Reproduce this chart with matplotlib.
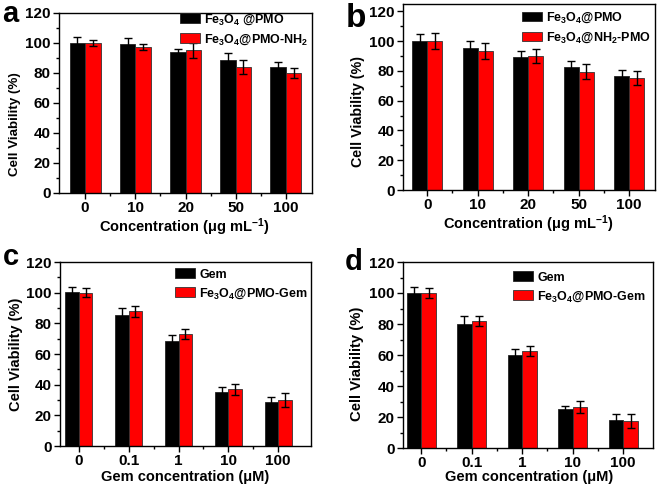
import matplotlib
matplotlib.use('Agg')
import matplotlib.pyplot as plt
import numpy as np
from matplotlib.ticker import MultipleLocator, FixedLocator

plt.rcParams['font.family'] = ['Liberation Sans', 'DejaVu Sans']
plt.rcParams['font.weight'] = 'bold'
plt.rcParams['mathtext.fontset'] = 'custom'
plt.rcParams['mathtext.rm'] = 'Liberation Sans:bold'
plt.rcParams['mathtext.it'] = 'Liberation Sans:bold'
plt.rcParams['mathtext.bf'] = 'Liberation Sans:bold'
plt.rcParams['mathtext.default'] = 'regular'

# ---------------- data ----------------
conc_ab = ['0', '10', '20', '50', '100']
conc_cd = ['0', '0.1', '1', '10', '100']

a_pmo = [99.9, 99.2, 94.3, 88.7, 83.8]
a_pmo_err = [3.8, 4.0, 2.0, 4.3, 3.4]
a_nh2 = [100.0, 97.2, 95.0, 83.8, 79.8]
a_nh2_err = [2.1, 2.0, 4.7, 4.7, 3.3]

b_pmo = [99.8, 95.4, 89.1, 82.4, 76.6]
b_pmo_err = [5.0, 5.0, 4.5, 4.5, 4.2]
b_nh2 = [100.0, 93.6, 90.2, 79.5, 75.4]
b_nh2_err = [5.2, 5.3, 4.7, 5.1, 4.5]

c_gem = [100.3, 85.3, 68.6, 35.2, 28.4]
c_gem_err = [3.4, 5.0, 3.7, 3.0, 3.3]
c_pmo = [100.0, 87.9, 72.9, 36.9, 30.2]
c_pmo_err = [2.9, 3.7, 3.1, 3.7, 4.5]

d_gem = [100.3, 80.3, 60.3, 24.9, 18.2]
d_gem_err = [3.6, 4.7, 3.5, 2.4, 3.7]
d_pmo = [100.0, 81.8, 62.5, 26.6, 17.4]
d_pmo_err = [3.3, 3.2, 3.0, 3.7, 4.5]

lbl_a = ['Fe$_3$O$_4$ @PMO', 'Fe$_3$O$_4$@PMO-NH$_2$']
lbl_b = ['Fe$_3$O$_4$@PMO', 'Fe$_3$O$_4$@NH$_2$-PMO']
lbl_cd = ['Gem', 'Fe$_3$O$_4$@PMO-Gem']
xlab_ab = 'Concentration (μg mL$^{-1}$)'
xlab_cd = 'Gem concentration (μM)'
ylab = 'Cell Viability (%)'

W, H = 661, 494
fig = plt.figure(figsize=(W / 100, H / 100), dpi=100)

RED = '#FF0000'


def panel(rect, xlim, ylim, width, cats, y1, e1, y2, e2, labels, xlab,
          leg_xy, ylab_xy, xlab_xy, ylab_fs, letter, letter_xy, letter_fs):
    l, b, w, h = rect
    ax = fig.add_axes([l / W, 1 - b / H, w / W, h / H])
    x = np.arange(len(cats))
    h1 = ax.bar(x - width / 2, y1, width, color='black', edgecolor='#222222', linewidth=0.6, zorder=2)
    h2 = ax.bar(x + width / 2, y2, width, color=RED, edgecolor='#333333', linewidth=0.6, zorder=2)
    ax.errorbar(x - width / 2, y1, yerr=e1, fmt='none', ecolor='black', elinewidth=1.0,
                capsize=3, capthick=1.0, zorder=3)
    ax.errorbar(x + width / 2, y2, yerr=e2, fmt='none', ecolor='black', elinewidth=1.0,
                capsize=3, capthick=1.0, zorder=3)
    ax.set_xlim(*xlim)
    ax.set_ylim(*ylim)
    ax.set_xticks(x)
    ax.set_xticklabels(cats)
    ax.xaxis.set_minor_locator(FixedLocator(x[:-1] + 0.5))
    ax.set_yticks(np.arange(0, 121, 20))
    ax.yaxis.set_minor_locator(MultipleLocator(10))
    ax.tick_params(which='major', direction='out', length=4, width=1, labelsize=11, pad=2)
    ax.tick_params(which='minor', direction='out', length=2.5, width=1)
    for s in ax.spines.values():
        s.set_linewidth(1.0)
    ax.set_xlabel(xlab, fontsize=10.5, fontweight='bold')
    ax.set_ylabel(ylab, fontsize=ylab_fs, fontweight='bold')
    ax.xaxis.label.set_va('center')
    ax.yaxis.label.set_va('center')
    ax.xaxis.set_label_coords(*xlab_xy)
    ax.yaxis.set_label_coords(*ylab_xy)
    ax.legend([h1, h2], labels, loc='upper left', bbox_to_anchor=leg_xy, frameon=False,
              fontsize=9, borderpad=0, borderaxespad=0, handlelength=1.6, handleheight=0.8,
              handletextpad=0.35, labelspacing=0.45)
    fig.text(letter_xy[0] / W, 1 - letter_xy[1] / H, letter, fontsize=letter_fs, fontweight='bold',
             ha='left', va='baseline')
    return ax


panel((59, 193, 253, 180), (-0.52, 4.52), (0, 120), 0.31, conc_ab,
      a_pmo, a_pmo_err, a_nh2, a_nh2_err, lbl_a, xlab_ab,
      (0.478, 1.005), (-0.172, 0.383), (0.496, -0.19), 9.6, 'a', (2, 22), 21)
panel((403, 190, 252, 186), (-0.48, 4.51), (0, 125), 0.30, conc_ab,
      b_pmo, b_pmo_err, b_nh2, b_nh2_err, lbl_b, xlab_ab,
      (0.472, 0.965), (-0.18, 0.42), (0.498, -0.182), 10.3, 'b', (346, 27), 24)
panel((60, 446, 251, 184), (-0.38, 4.66), (0, 120), 0.27, conc_cd,
      c_gem, c_gem_err, c_pmo, c_pmo_err, lbl_cd, xlab_cd,
      (0.458, 0.965), (-0.177, 0.5), (0.498, -0.168), 10.5, 'c', (3, 265), 21)
panel((403, 448, 250, 186), (-0.36, 4.59), (0, 120), 0.29, conc_cd,
      d_gem, d_gem_err, d_pmo, d_pmo_err, lbl_cd, xlab_cd,
      (0.44, 0.949), (-0.182, 0.45), (0.504, -0.156), 10.7, 'd', (345, 270), 21)

fig.savefig('out.png', dpi=100)
